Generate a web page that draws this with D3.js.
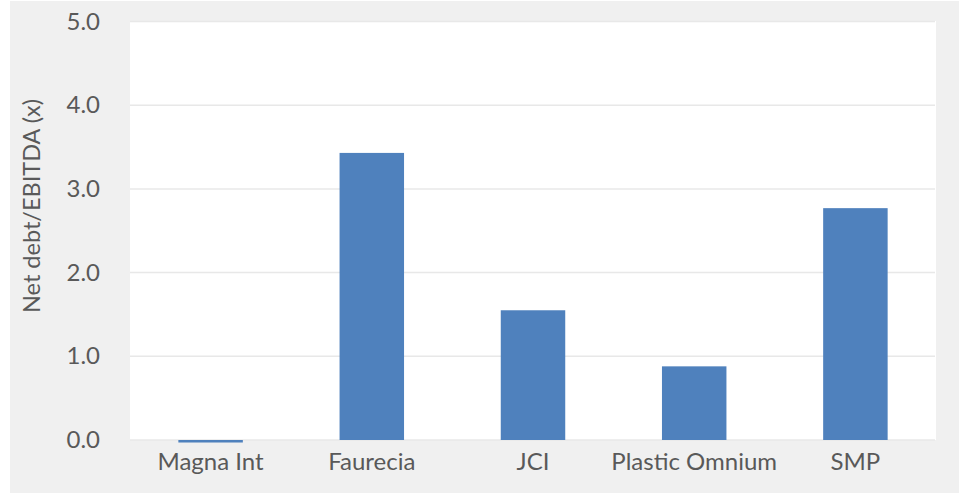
<!DOCTYPE html>
<html>
<head>
<meta charset="utf-8">
<script src="https://cdn.jsdelivr.net/npm/d3@7"></script>
<style>
  body { margin: 0; background: #fff; }
  text { font-family: Lato, "Open Sans", sans-serif; fill: #595959; }
</style>
</head>
<body>
<svg id="chart" width="963" height="494"></svg>
<script>
// chart values
var categories = ['Magna Int', 'Faurecia', 'JCI', 'Plastic Omnium', 'SMP'];
var values = [-0.03, 3.43, 1.55, 0.88, 2.77];
var yTicks = [0, 1, 2, 3, 4, 5];
var yTitle = 'Net debt/EBITDA (x)';

var margin = {top: 21.5, right: 27, bottom: 54, left: 130},
  width = 963 - margin.left - margin.right,
  height = 494 - margin.top - margin.bottom;

var fontSize = 24;

var svg = d3.select('#chart');

// light gray frame behind everything
svg.append('rect')
  .attr('x', 10).attr('y', 1)
  .attr('width', 949).attr('height', 492)
  .attr('fill', '#f0f0f0');

var g = svg.append('g')
  .attr('transform', 'translate(' + margin.left + ',' + margin.top + ')');

g.append('rect')
  .attr('x', 0).attr('y', -0.5)
  .attr('width', width).attr('height', height + 0.5)
  .attr('fill', '#fff');

var x = d3.scaleBand()
  .domain(categories)
  .range([0, width])
  .paddingInner(0.6)
  .paddingOuter(0.3);

var y = d3.scaleLinear()
  .domain([0, 5])
  .range([height, 0]);

// gridlines
g.selectAll('.grid')
  .data(yTicks)
  .enter().append('line')
  .attr('class', 'grid')
  .attr('x1', 0).attr('x2', width - 1)
  .attr('y1', d => y(d)).attr('y2', d => y(d))
  .attr('stroke', '#e8e8e8')
  .attr('stroke-width', 1.5);

// bars
g.selectAll('.bar')
  .data(values)
  .enter().append('rect')
  .attr('class', 'bar')
  .attr('x', (d, i) => x(categories[i]))
  .attr('width', x.bandwidth())
  .attr('y', d => y(Math.max(0, d)))
  .attr('height', d => Math.abs(y(d) - y(0)))
  .attr('fill', '#4f81bd');

// y axis
var yAxis = d3.axisLeft(y)
  .tickValues(yTicks)
  .tickFormat(d3.format('.1f'))
  .tickSize(0)
  .tickPadding(30);
var ya = g.append('g').call(yAxis);
ya.select('.domain').remove();
ya.selectAll('text')
  .attr('font-size', fontSize)
  .attr('font-family', 'Lato, "Open Sans", sans-serif')
  .attr('fill', '#595959');

// x axis
var xAxis = d3.axisBottom(x).tickSize(0).tickPadding(13);
var xa = g.append('g')
  .attr('transform', 'translate(0,' + height + ')')
  .call(xAxis);
xa.select('.domain').remove();
xa.selectAll('text')
  .attr('font-size', fontSize)
  .attr('font-family', 'Lato, "Open Sans", sans-serif')
  .attr('fill', '#595959');

// axis title
svg.append('text')
  .attr('transform', 'translate(40,206) rotate(-90)')
  .attr('text-anchor', 'middle')
  .attr('font-size', 23.5)
  .text(yTitle);
</script>
</body>
</html>
